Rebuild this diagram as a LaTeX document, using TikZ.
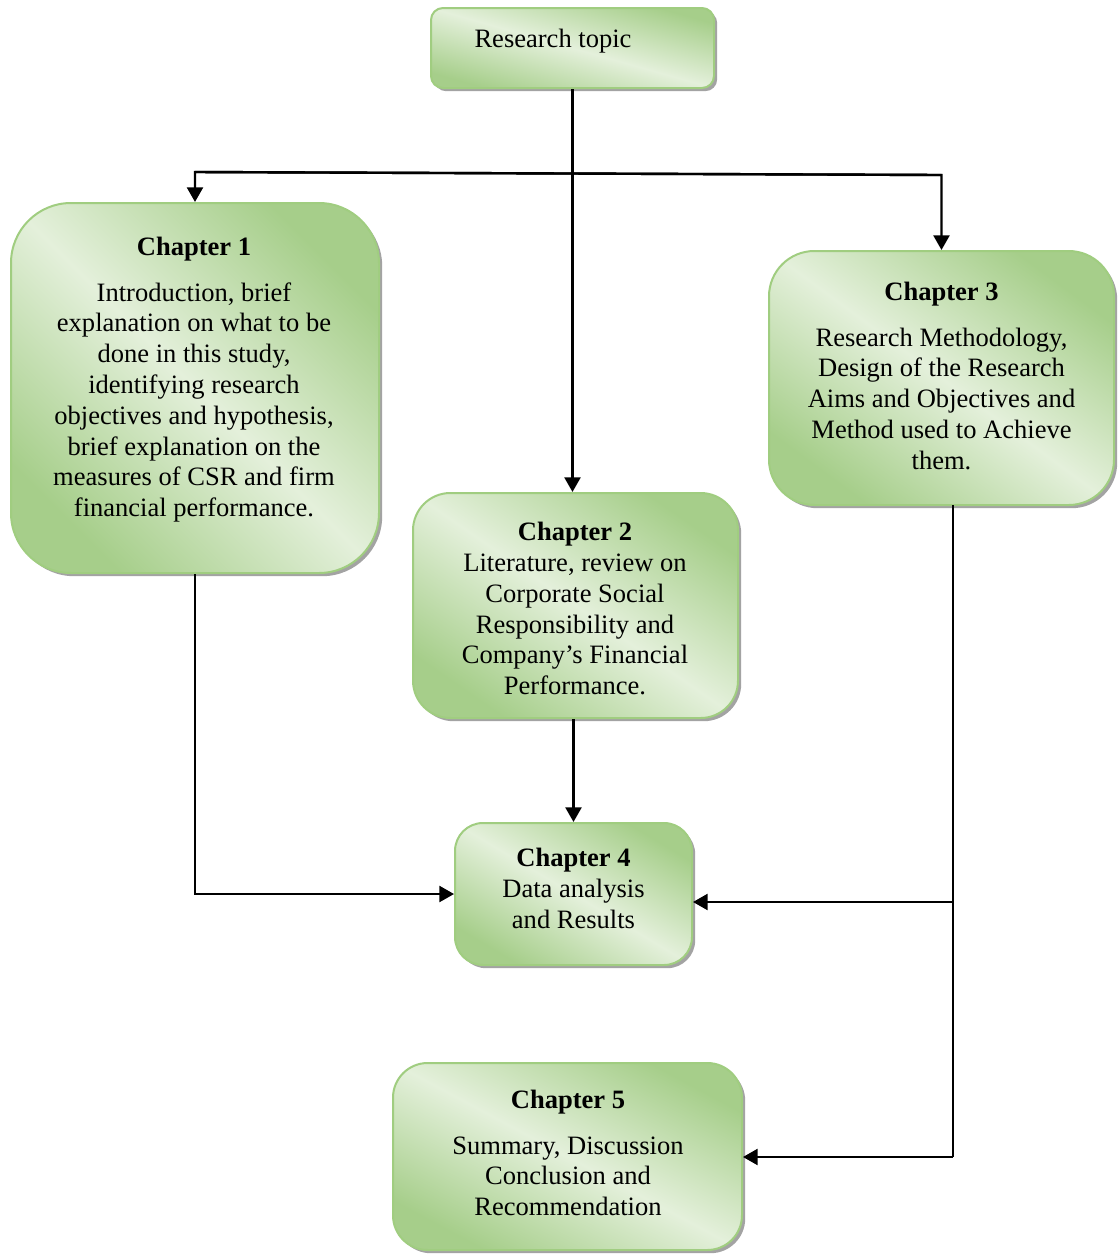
\documentclass[tikz,border=0pt]{standalone}
\usepackage{fontspec}
\setmainfont{Liberation Serif}
\usetikzlibrary{arrows.meta,shadows,calc}
\definecolor{gdark}{RGB}{166,206,138}
\definecolor{glight}{RGB}{228,240,219}
\definecolor{gborder}{RGB}{160,205,128}
\tikzset{
  box/.style={rectangle, draw=gborder, line width=1.5pt, inner sep=0pt,
    top color=gdark, bottom color=gdark, middle color=glight, shading angle=#1,
    drop shadow={shadow xshift=2.4pt, shadow yshift=-2.4pt, fill=black!45, opacity=0.8}},
  txt/.style={align=center, inner sep=0pt, anchor=north,
    font=\fontsize{19.9pt}{23.1pt}\selectfont},
  conn/.style={line width=1.8pt, draw=black},
  arr/.style={conn, -{Triangle[width=12pt,length=11pt]}},
}
\begin{document}
\begin{tikzpicture}[x=0.75pt,y=-0.75pt]
\useasboundingbox (0,0) rectangle (1120,1258);
% boxes
\node[box=-15.8, minimum width=212.25pt, minimum height=60pt, rounded corners=9pt] (rt) at (572.5,48) {};
\node[box=-45, minimum width=276pt, minimum height=277.5pt, rounded corners=45pt] (ch1) at (195,388) {};
\node[box=-34.7, minimum width=243.75pt, minimum height=168.75pt, rounded corners=28pt] (ch2) at (575.5,605.5) {};
\node[box=-36.4, minimum width=258.75pt, minimum height=190.5pt, rounded corners=34pt] (ch3) at (941.5,378) {};
\node[box=-30.9, minimum width=177.75pt, minimum height=106.5pt, rounded corners=21pt] (ch4) at (573.5,894) {};
\node[box=-28.2, minimum width=261.75pt, minimum height=140.25pt, rounded corners=26pt] (ch5) at (567.5,1156.5) {};
% texts
\node[txt, anchor=center] (rtt) at (553,41) {Research topic};
\node[txt] (ch1t) at (194,237) {\textbf{Chapter 1}\\[11pt]
Introduction, brief\\
explanation on what to be\\
done in this study,\\
identifying research\\
objectives and hypothesis,\\
brief explanation on the\\
measures of CSR and firm\\
financial performance.};
\node[txt] (ch2t) at (575,522) {\textbf{Chapter 2}\\
Literature, review on\\
Corporate Social\\
Responsibility and\\
Company’s Financial\\
Performance.};
\node[txt] (ch3t) at (941.5,282) {\textbf{Chapter 3}\\[11pt]
Research Methodology,\\
Design of the Research\\
Aims and Objectives and\\
Method used to Achieve\\
them.};
\node[txt] (ch4t) at (573.5,848) {\textbf{Chapter 4}\\
Data analysis\\
and Results};
\node[txt] (ch5t) at (568,1090) {\textbf{Chapter 5}\\[11pt]
Summary, Discussion\\
Conclusion and\\
Recommendation};
% connectors
\coordinate (j1) at (195,172);
\coordinate (j3) at (941.5,175);
\coordinate (c3b) at (953,505);
\coordinate (c3m) at (953,902);
\coordinate (c3e) at (953,1157);
\draw[arr] (rt.south) -- (rt.south |- ch2.north);
\draw[arr] (j3) -- (j1) -- (ch1.north);
\draw[arr] (j1) -- (j3) -- (ch3.north);
\draw[arr] (ch1.south) |- (ch4.west);
\draw[arr] (ch4.north |- ch2.south) -- (ch4.north);
\draw[conn] (c3b) -- (c3e);
\draw[arr] (c3m) -- (c3m -| ch4.east);
\draw[arr] (c3e) -- (c3e -| ch5.east);
\end{tikzpicture}
\end{document}
